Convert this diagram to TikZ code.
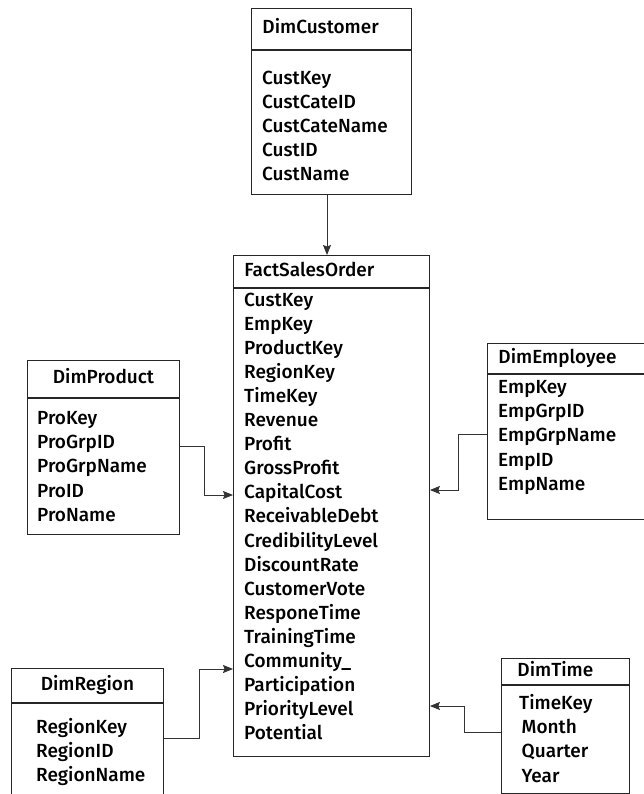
\documentclass[tikz,border=0pt]{standalone}
\usepackage{fontspec}
\IfFontExistsTF{Fira Sans Medium}{\setmainfont{Fira Sans Medium}}{\setmainfont{Fira Sans}}
\usetikzlibrary{arrows.meta}
\begin{document}
\begin{tikzpicture}[
        x=1pt, y=-1pt,
        tblhead/.style={draw=black!85, line width=0.9pt, rectangle, anchor=north west, inner xsep=11pt, inner ysep=0pt, align=left, text height=13.5pt, text depth=4pt, font=\fontsize{19}{24}\selectfont},
        tblbody/.style={draw=black!85, line width=0.9pt, rectangle, anchor=north west, inner sep=0pt},
        fieldlist/.style={anchor=north west, inner sep=0pt, align=left, font=\fontsize{19}{24.1}\selectfont},
        link/.style={draw=black!80, line width=0.9pt, -{Stealth[length=10pt, width=8pt, inset=1.5pt]}}
    ]
    \useasboundingbox (0,0) rectangle (644,794);
    \clip (0,0) rectangle (644,794);

    % customer dimension
    \node[tblhead, text width=138, minimum width=160, minimum height=41] (custhead) at (251,8) {DimCustomer};
    \node[tblbody, minimum width=160, minimum height=144] (custbody) at (custhead.south west) {};
    \node[fieldlist] (custfields) at (262,70.4) {CustKey\\CustCateID\\CustCateName\\CustID\\CustName};

    % fact table
    \node[tblhead, text width=174, minimum width=196, minimum height=32] (facthead) at (233,255) {FactSalesOrder};
    \node[tblbody, minimum width=196, minimum height=468] (factbody) at (facthead.south west) {};
    \node[fieldlist] (factfields) at (244,292.4) {CustKey\\EmpKey\\ProductKey\\RegionKey\\TimeKey\\Revenue\\Profit\\GrossProfit\\CapitalCost\\ReceivableDebt\\CredibilityLevel\\DiscountRate\\CustomerVote\\ResponeTime\\TrainingTime\\Community\_\\Participation\\PriorityLevel\\Potential};

    % product dimension
    \node[tblhead, align=center, text width=130, minimum width=152, minimum height=37] (prodhead) at (27,360) {DimProduct};
    \node[tblbody, minimum width=152, minimum height=136] (prodbody) at (prodhead.south west) {};
    \node[fieldlist] (prodfields) at (37,411.4) {ProKey\\ProGrpID\\ProGrpName\\ProID\\ProName};

    % region dimension
    \node[tblhead, align=center, text width=130, minimum width=152, minimum height=34] (reghead) at (11,668) {DimRegion};
    \node[tblbody, minimum width=152, minimum height=108] (regbody) at (reghead.south west) {};
    \node[fieldlist] (regfields) at (36,718.4) {RegionKey\\RegionID\\RegionName};

    % employee dimension
    \node[tblhead, text width=148, minimum width=170, minimum height=30] (emphead) at (487,343) {DimEmployee};
    \node[tblbody, minimum width=170, minimum height=145] (empbody) at (emphead.south west) {};
    \node[fieldlist] (empfields) at (498,380.4) {EmpKey\\EmpGrpID\\EmpGrpName\\EmpID\\EmpName};

    % time dimension
    \node[tblhead, inner xsep=16pt, text width=96, minimum width=128, minimum height=26] (timehead) at (501,658) {DimTime};
    \node[tblbody, minimum width=128, minimum height=108] (timebody) at (timehead.south west) {};
    \node[fieldlist] (timefields) at (519,694.4) {TimeKey\\\hspace{2.5pt}Month\\\hspace{2.5pt}Quarter\\\hspace{2.5pt}Year};

    % links to the fact table
    \draw[link] (custbody.south -| 327,0) -- (facthead.north -| 327,0);
    \draw[link] (prodbody.east |- 0,446) -- ++(25,0) |- (factbody.west |- 0,495);
    \draw[link] (regbody.east |- 0,738) -- ++(36,0) |- (factbody.west |- 0,669);
    \draw[link] (empbody.west |- 0,434) -- ++(-29,0) |- (factbody.east |- 0,490);
    \draw[link] (timebody.west |- 0,732) -- ++(-37,0) |- (factbody.east |- 0,706);

\end{tikzpicture}
\end{document}
